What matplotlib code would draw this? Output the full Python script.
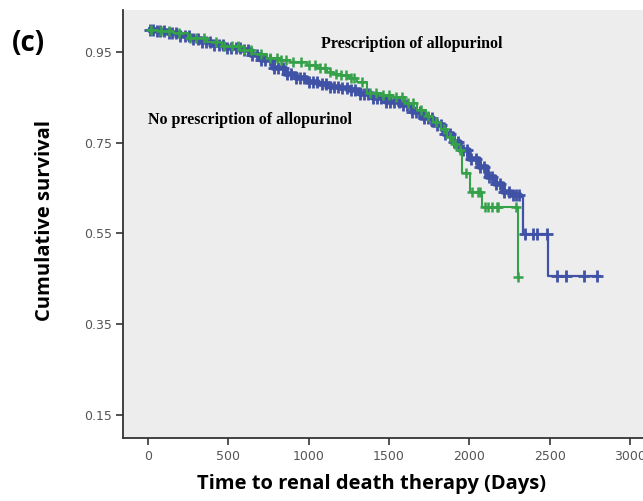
import numpy as np
import matplotlib
matplotlib.use("Agg")
import matplotlib.pyplot as plt

# ---- data ----
blue_t = [0, 50, 120, 200, 260, 330, 400, 480, 572, 640, 700, 778, 850, 920, 989, 1060,
          1130, 1195, 1257, 1320, 1400, 1480, 1568, 1640, 1700, 1773, 1840, 1900, 1941,
          2000, 2060, 2110, 2160, 2209, 2260, 2315, 2333, 2490]
blue_s = [1.0, 0.997, 0.992, 0.986, 0.980, 0.973, 0.966, 0.960, 0.954, 0.944, 0.932, 0.915,
          0.902, 0.892, 0.884, 0.879, 0.874, 0.871, 0.866, 0.858, 0.848, 0.840, 0.833, 0.818,
          0.804, 0.789, 0.770, 0.752, 0.735, 0.715, 0.697, 0.675, 0.660, 0.641, 0.635, 0.630,
          0.549, 0.456]
blue_end = 2813
blue_cens = [10, 30, 55, 75, 100, 130, 150, 175, 200, 230, 255, 280, 310, 335, 360, 385,
             410, 440, 465, 490, 515, 545, 570, 600, 625, 650, 680, 705, 730, 760, 785, 810,
             840, 865, 890, 920, 945, 970, 1000, 1025, 1050, 1080, 1105, 1130, 1160, 1185,
             1210, 1240, 1265, 1290, 1320, 1345, 1370, 1400, 1425, 1450, 1480, 1505, 1530,
             1560, 1585, 1610, 1640, 1665, 1690, 1720, 1745, 1770, 1800, 1825, 1850, 1880,
             1905, 1930, 1960, 1985, 2010, 2040, 2065, 2090, 2120, 2140, 2165, 2190, 2215,
             2245, 2270, 2290, 2310, 2346, 2396, 2420, 2483, 2545, 2600, 2710, 2793]

green_t = [0, 60, 156, 250, 367, 460, 572, 650, 740, 820, 884, 989, 1050, 1114, 1151, 1195,
           1250, 1300, 1363, 1450, 1525, 1600, 1674, 1730, 1773, 1820, 1861, 1900, 1923,
           1954, 2004, 2078, 2300]
green_s = [1.0, 0.997, 0.992, 0.982, 0.972, 0.963, 0.954, 0.945, 0.937, 0.932, 0.928, 0.921,
           0.915, 0.906, 0.902, 0.899, 0.892, 0.884, 0.860, 0.855, 0.851, 0.838, 0.822, 0.810,
           0.796, 0.780, 0.763, 0.748, 0.734, 0.683, 0.641, 0.608, 0.454]
green_end = 2300
green_cens = [20, 80, 130, 190, 260, 300, 350, 420, 470, 520, 560, 600, 640, 700, 760, 800,
              830, 860, 900, 950, 1000, 1040, 1070, 1100, 1130, 1170, 1200, 1230, 1260, 1280,
              1330, 1380, 1420, 1460, 1500, 1540, 1580, 1620, 1650, 1700, 1740, 1790, 1840,
              1880, 1910, 1940, 1980, 2016, 2053, 2066, 2097, 2116, 2141, 2172, 2178, 2290, 2300]

x_ticks = [0, 500, 1000, 1500, 2000, 2500, 3000]
y_ticks = [0.15, 0.35, 0.55, 0.75, 0.95]
label_green = "Prescription of allopurinol"
label_blue = "No prescription of allopurinol"
x_label = "Time to renal death therapy (Days)"
y_label = "Cumulative survival"
panel = "(c)"

BLUE = "#4052A6"
GREEN = "#35A24A"


def surv_at(ts, ss, t):
    idx = np.searchsorted(np.asarray(ts), t, side="right") - 1
    return np.asarray(ss)[idx]


fig = plt.figure(figsize=(6.43, 5.01), dpi=100)
ax = fig.add_axes([0.191, 0.126, 0.809, 0.854])
ax.set_facecolor("#EEEDEE")

# blue: the dense part of the curve forms a thick band in the reference
bt = np.asarray(blue_t)
dense = bt < 2320
ax.step(bt[dense], np.asarray(blue_s)[dense], where="post", color=BLUE, lw=4.0,
        zorder=2, solid_capstyle="butt")
ax.step(list(blue_t) + [blue_end], list(blue_s) + [blue_s[-1]], where="post",
        color=BLUE, lw=1.6, zorder=2)
bc = np.asarray(blue_cens)
ax.plot(bc, surv_at(blue_t, blue_s, bc), ls="none", marker="+", ms=8, mew=2.0,
        color=BLUE, zorder=2)

ax.step(list(green_t) + [green_end], list(green_s) + [green_s[-1]], where="post",
        color=GREEN, lw=1.5, zorder=3)
gc = np.asarray(green_cens)
ax.plot(gc, surv_at(green_t, green_s, gc), ls="none", marker="+", ms=7, mew=1.8,
        color=GREEN, zorder=3)

ax.set_xlim(-157, 3080)
ax.set_ylim(0.099, 1.043)
ax.set_xticks(x_ticks)
ax.set_xticklabels([str(v) for v in x_ticks])
ax.set_yticks(y_ticks)
ax.set_yticklabels([f"{v:.2f}" for v in y_ticks])

for s in ["top", "right"]:
    ax.spines[s].set_visible(False)
for s in ["left", "bottom"]:
    ax.spines[s].set_color("#333333")
    ax.spines[s].set_linewidth(1.3)
ax.tick_params(axis="both", direction="out", length=5, width=1.2, color="#333333",
               labelsize=9, labelcolor="#555555")
for lab in ax.get_xticklabels() + ax.get_yticklabels():
    lab.set_family("DejaVu Sans")
ax.tick_params(axis="x", pad=4)
ax.tick_params(axis="y", pad=3)

ax.text(1075, 0.968, label_green, family="Liberation Serif", fontweight="bold",
        fontsize=11.5, ha="left", va="center", color="black")
ax.text(0, 0.800, label_blue, family="Liberation Serif", fontweight="bold",
        fontsize=11.5, ha="left", va="center", color="black")

fig.text(0.577, 0.034, x_label, family="Open Sans", fontweight="bold", fontsize=14.5,
         ha="center", va="center")
fig.text(0.07, 0.56, y_label, family="Open Sans", fontweight="bold", fontsize=14.5,
         ha="center", va="center", rotation=90)
fig.text(0.018, 0.913, panel, family="Open Sans", fontweight="bold", fontsize=20,
         ha="left", va="center")

fig.savefig("out.png", dpi=100)
